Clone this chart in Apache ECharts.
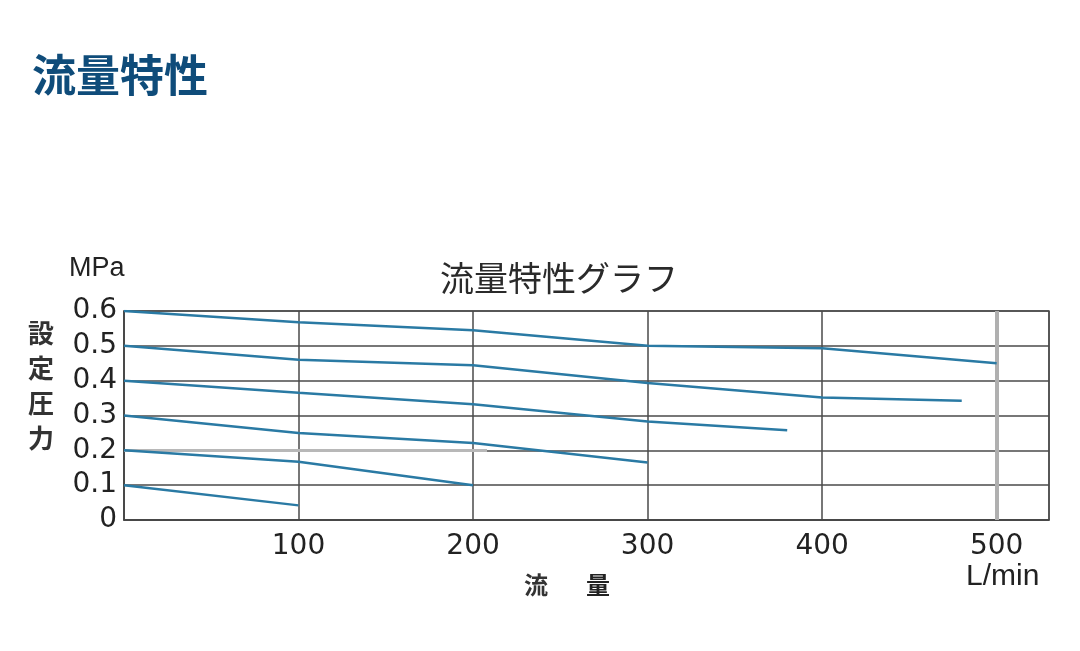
<!DOCTYPE html>
<html>
<head>
<meta charset="utf-8">
<script src="https://cdn.jsdelivr.net/npm/echarts@6/dist/echarts.min.js"></script>
<style>html,body{margin:0;padding:0;background:#fff;}#c{width:1080px;height:651px;}</style>
</head>
<body>
<div id="c"></div>
<script>
// Data
const pageTitle = '流量特性';
const chartTitle = '流量特性グラフ';
const yUnit = 'MPa';
const yName = ['設', '定', '圧', '力'];
const xName = ['流', '量'];
const xUnit = 'L/min';
const xTicks = [100, 200, 300, 400, 500];

const flow06 = [0, 100, 200, 300, 400, 500];
const pres06 = [0.6, 0.568, 0.545, 0.5, 0.493, 0.45];
const flow05 = [0, 100, 200, 300, 400, 480];
const pres05 = [0.5, 0.46, 0.444, 0.393, 0.352, 0.342];
const flow04 = [0, 100, 200, 300, 380];
const pres04 = [0.4, 0.365, 0.332, 0.283, 0.258];
const flow03 = [0, 100, 200, 300];
const pres03 = [0.3, 0.25, 0.221, 0.165];
const flow02 = [0, 100, 200];
const pres02 = [0.2, 0.167, 0.1];
const flow01 = [0, 100];
const pres01 = [0.1, 0.042];

const curves = [[flow06, pres06], [flow05, pres05], [flow04, pres04], [flow03, pres03], [flow02, pres02], [flow01, pres01]];

const chart = echarts.init(document.getElementById('c'), null, {renderer: 'canvas'});
const numFont = 'DejaVu Sans';
const cjk = '"Noto Sans CJK JP", "Noto Sans CJK SC", sans-serif';

const series = curves.map(function (c, i) {
  const s = {
    type: 'line',
    data: c[0].map(function (x, j) { return [x, c[1][j]]; }),
    showSymbol: false,
    symbol: 'none',
    lineStyle: {color: '#2a7aa4', width: 2.5},
    z: 5,
    silent: true
  };
  if (i === 0) {
    s.markLine = {
      silent: true,
      symbol: 'none',
      label: {show: false},
      z: 1,
      data: [
        [{coord: [500, 0], lineStyle: {color: '#b0b0b0', width: 4, type: 'solid'}}, {coord: [500, 0.6]}],
        [{coord: [0, 0.2], lineStyle: {color: '#b8b8b8', width: 3, type: 'solid'}}, {coord: [208, 0.2]}]
      ]
    };
  }
  return s;
});

const graphics = [
  {type: 'text', left: 32, top: 53, style: {text: pageTitle, font: 'bold 44px ' + cjk, fill: '#0f4c7a'}},
  {type: 'text', left: 69, top: 255, style: {text: yUnit, font: '27px "Liberation Sans", Arial', fill: '#222'}},
  {type: 'text', left: 966, top: 562, style: {text: xUnit, font: '30px "Liberation Sans", Arial', fill: '#222'}},
  {type: 'text', left: 524, top: 573, style: {text: xName[0], font: 'bold 24px ' + cjk, fill: '#333'}},
  {type: 'text', left: 586, top: 573, style: {text: xName[1], font: 'bold 24px ' + cjk, fill: '#222'}}
];
const yNameCenters = [335, 370, 405, 440];
yName.forEach(function (ch, i) {
  graphics.push({type: 'text', left: 28, top: yNameCenters[i] - 15, style: {text: ch, font: 'bold 26px ' + cjk, fill: '#333'}});
});

chart.setOption({
  animation: false,
  backgroundColor: '#fff',
  title: {
    text: chartTitle,
    left: 554,
    textAlign: 'center',
    top: 256,
    textStyle: {fontFamily: cjk, fontSize: 34, fontWeight: 'normal', color: '#2a2a2a'}
  },
  grid: {left: 124, right: 31, top: 311, bottom: 131, show: true, borderColor: '#555', borderWidth: 1.5, containLabel: false},
  xAxis: {
    type: 'value',
    min: 0,
    max: 530,
    interval: 100,
    axisLine: {show: true, lineStyle: {color: '#444', width: 1.5}},
    axisTick: {show: false},
    axisLabel: {
      margin: 13,
      fontFamily: numFont,
      fontSize: 28,
      color: '#222',
      showMaxLabel: false,
      formatter: function (v) { return xTicks.indexOf(v) >= 0 ? String(v) : ''; }
    },
    splitLine: {show: true, lineStyle: {color: ['#4a4a4a', '#4a4a4a', '#4a4a4a', '#4a4a4a', '#4a4a4a', '#b0b0b0', '#4a4a4a'], width: 1.5}}
  },
  yAxis: {
    type: 'value',
    min: 0,
    max: 0.6,
    interval: 0.1,
    axisLine: {show: true, lineStyle: {color: '#444', width: 1.5}},
    axisTick: {show: false},
    axisLabel: {
      margin: 7,
      fontFamily: numFont,
      fontSize: 28,
      color: '#222',
      formatter: function (v) { return v === 0 ? '0' : v.toFixed(1); }
    },
    splitLine: {show: true, lineStyle: {color: '#4a4a4a', width: 1.5}}
  },
  graphic: graphics,
  series: series
});
</script>
</body>
</html>
